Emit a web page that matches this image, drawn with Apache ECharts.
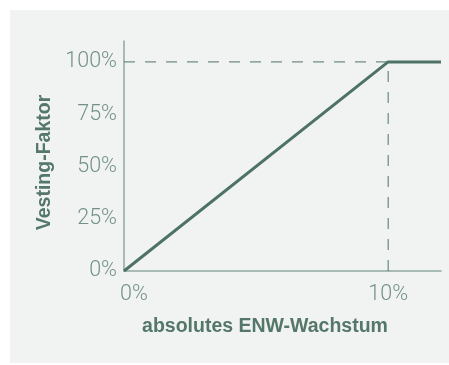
<!DOCTYPE html>
<html>
<head>
<meta charset="utf-8">
<script src="https://cdn.jsdelivr.net/npm/echarts@6/dist/echarts.min.js"></script>
<style>
  html, body { margin: 0; padding: 0; background: #ffffff; }
  #chart { width: 449px; height: 365px; }
</style>
</head>
<body>
<div id="chart"></div>
<script>
// Vesting curve: factor rises linearly to 100% at 10% growth, then stays flat
const growthPct = [0, 10, 12];
const vestingPct = [0, 100, 100];
const xTicks = [0, 10];
const yTicks = [0, 25, 50, 75, 100];
const capGrowth = 10;
const capVesting = 100;

const lineColor = '#4e7366';
const axisColor = '#8ea89f';
const labelColor = '#729287';
const titleColor = '#547769';
const labelFont = 'Roboto, "Liberation Sans", Arial, sans-serif';
const titleFont = '"Liberation Sans", Arial, Helvetica, sans-serif';

const chart = echarts.init(document.getElementById('chart'), null, { renderer: 'canvas' });

chart.setOption({
  backgroundColor: '#ffffff',
  animation: false,
  graphic: {
    elements: [{
      type: 'rect',
      z: -100,
      silent: true,
      shape: { x: 10, y: 10, width: 439, height: 353 },
      style: { fill: '#f1f3f2' }
    }]
  },
  grid: { left: 124, top: 41, right: 8, bottom: 94 },
  xAxis: {
    type: 'value',
    min: 0,
    max: 12,
    interval: 10,
    name: 'absolutes ENW-Wachstum',
    nameLocation: 'middle',
    nameGap: 46,
    nameTextStyle: { color: titleColor, fontSize: 19.5, fontWeight: 'bold', fontFamily: titleFont, padding: [0, 35, 0, 0] },
    axisLine: { show: true, lineStyle: { color: axisColor, width: 1.5 } },
    axisTick: { show: false },
    splitLine: { show: false },
    axisLabel: {
      color: labelColor,
      fontSize: 21.5,
      fontWeight: 300,
      fontFamily: labelFont,
      margin: 13,
      showMaxLabel: false,
      formatter: function (v) {
        if (xTicks.indexOf(v) < 0) return '';
        return v === 0 ? '{first|' + v + '%}' : v + '%';
      },
      rich: {
        first: { color: labelColor, fontSize: 21.5, fontWeight: 300, fontFamily: labelFont, padding: [0, 0, 0, 20] }
      }
    }
  },
  yAxis: {
    type: 'value',
    min: 0,
    max: 110,
    interval: 25,
    name: 'Vesting-Faktor',
    nameLocation: 'middle',
    nameGap: 61,
    nameRotate: 90,
    nameTextStyle: { color: titleColor, fontSize: 19.5, fontWeight: 'bold', fontFamily: titleFont, padding: [0, 13, 0, 0] },
    axisLine: { show: true, lineStyle: { color: axisColor, width: 1.5 } },
    axisTick: { show: false },
    splitLine: { show: false },
    axisLabel: {
      color: labelColor,
      fontSize: 21.5,
      fontWeight: 300,
      fontFamily: labelFont,
      margin: 7,
      showMaxLabel: false,
      formatter: function (v) { return yTicks.indexOf(v) < 0 ? '' : v + '%'; }
    }
  },
  series: [
    {
      type: 'line',
      name: 'guide-h',
      data: [[0, capVesting], [capGrowth, capVesting]],
      symbol: 'none',
      z: 1,
      lineStyle: { color: lineColor, width: 1, type: [11, 10] }
    },
    {
      type: 'line',
      name: 'guide-v',
      data: [[capGrowth, 0], [capGrowth, capVesting]],
      symbol: 'none',
      z: 1,
      lineStyle: { color: lineColor, width: 1, type: [11, 10] }
    },
    {
      type: 'line',
      name: 'Vesting-Faktor',
      data: growthPct.map(function (g, i) { return [g, vestingPct[i]]; }),
      symbol: 'none',
      z: 3,
      lineStyle: { color: lineColor, width: 3 }
    }
  ]
});
</script>
</body>
</html>
